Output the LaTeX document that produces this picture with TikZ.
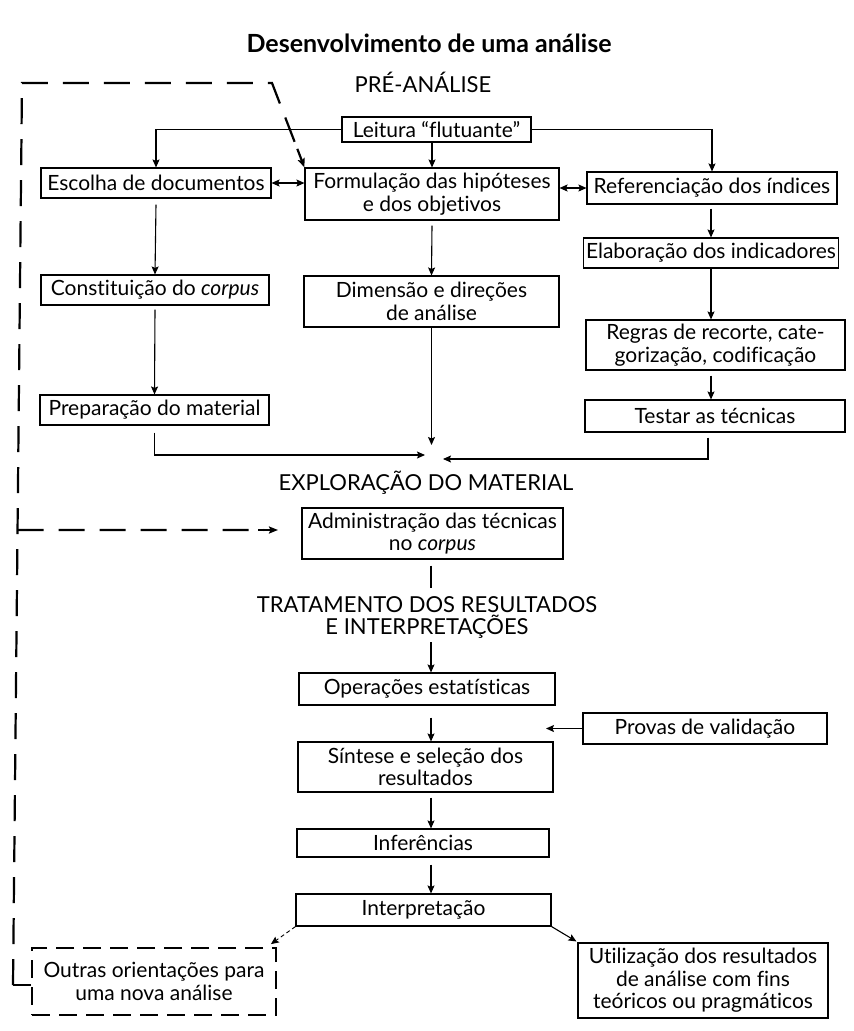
\documentclass[tikz,border=0pt]{standalone}
\usepackage{fontspec}
\setmainfont{Lato}[Ligatures=NoCommon]
\usetikzlibrary{arrows.meta,calc}
\newcommand{\bx}{\fontsize{21}{22.5}\selectfont}
\newcommand{\lb}{\fontsize{22}{22}\selectfont}
\begin{document}
\begin{tikzpicture}[x=1pt,y=-1pt,
  box/.style={draw, line width=1.1pt, inner sep=0pt, align=center, font=\bx},
  lbl/.style={inner sep=0pt, align=center, font=\lb},
  arr/.style={line width=1.1pt, -{Stealth[length=8pt,width=7pt,inset=1.5pt]}},
  arrb/.style={line width=1.1pt, {Stealth[length=8pt,width=7pt,inset=1.5pt]}-{Stealth[length=8pt,width=7pt,inset=1.5pt]}},
  plain/.style={line width=1.1pt},
  bigdash/.style={line width=2.2pt, dash pattern=on 26pt off 15pt},
  boxdash/.style={draw, line width=1.8pt, dash pattern=on 18pt off 9pt, inner sep=0pt, align=center, font=\bx},
  thindash/.style={line width=0.9pt, dash pattern=on 4pt off 3pt, -{Stealth[length=8pt,width=7pt,inset=1.5pt]}}
]
\useasboundingbox (0,0) rectangle (854,1031);

% titles
\node[font=\fontsize{25}{28}\selectfont\bfseries, inner sep=0pt] (title) at (429,43) {Desenvolvimento de uma análise};
\node[lbl] (pre) at (423,82) {PRÉ-ANÁLISE};
\node[lbl] (explo) at (426,483) {EXPLORAÇÃO DO MATERIAL};
\node[lbl] (trat) at (427,617) {TRATAMENTO DOS RESULTADOS\\E INTERPRETAÇÕES};

% boxes
\node[box, minimum width=189pt, minimum height=25pt] (leitura) at (436.5,129.5) {Leitura “flutuante”};
\node[box, minimum width=230pt, minimum height=30pt] (escolha) at (156,183) {Escolha de documentos};
\node[box, minimum width=254pt, minimum height=52pt] (formul) at (432,194) {Formulação das hipóteses\\e dos objetivos};
\node[box, minimum width=250pt, minimum height=32pt] (refer) at (712,188) {Referenciação dos índices};
\node[box, minimum width=255pt, minimum height=30pt] (elab) at (711,253) {Elaboração dos indicadores};
\node[box, minimum width=228pt, minimum height=30pt] (const) at (155,290) {Constituição do \textit{corpus}};
\node[box, minimum width=255pt, minimum height=51pt] (dimen) at (431.5,301.5) {Dimensão e direções\\de análise};
\node[box, minimum width=259pt, minimum height=50pt] (regras) at (715.5,345) {Regras de recorte, cate-\\gorização, codificação};
\node[box, minimum width=229pt, minimum height=30pt] (prep) at (154.5,410) {Preparação do material};
\node[box, minimum width=260pt, minimum height=32pt] (testar) at (715,416) {Testar as técnicas};
\node[box, minimum width=261pt, minimum height=51pt] (admin) at (432.5,533.5) {Administração das técnicas\\no \textit{corpus}};
\node[box, minimum width=256pt, minimum height=32pt] (oper) at (427,689) {Operações estatísticas};
\node[box, minimum width=244pt, minimum height=31pt] (provas) at (705,728.5) {Provas de validação};
\node[box, minimum width=255pt, minimum height=50pt] (sintese) at (425.5,767) {Síntese e seleção dos\\resultados};
\node[box, minimum width=252pt, minimum height=28pt] (infer) at (423,843) {Inferências};
\node[box, minimum width=255pt, minimum height=32pt] (interp) at (423.5,910) {Interpretação};
\node[boxdash, minimum width=244pt, minimum height=67pt] (outras) at (154,981.5) {Outras orientações para\\uma nova análise};
\node[box, minimum width=250pt, minimum height=75pt] (utiliz) at (703,980.5) {Utilização dos resultados\\de análise com fins\\teóricos ou pragmáticos};

% coordinates
\coordinate (j1) at (425,455);
\coordinate (j2) at (431.5,445);
\coordinate (j3) at (443,459);
\coordinate (ax) at (431,0);
\coordinate (rx) at (711,0);
\coordinate (lt) at (22,83);
\coordinate (lb) at (13,985);
\coordinate (tc) at (272,83);
\coordinate (lm) at ($(lt)!0.4956!(lb)$);
\coordinate (admtip) at (278,530);
\coordinate (adend) at (431,588);
\coordinate (pv) at (546,0);

% pre-analysis connectors
\draw[arr] (leitura.west) -| (escolha.north);
\draw[arr] (leitura.south -| formul.north) -- (formul.north);
\draw[arr] (leitura.east) -| (refer.north);
\draw[arrb] (escolha.east) -- (escolha.east -| formul.west);
\draw[arrb] (formul.east |- refer.west) -- (refer.west);
\draw[arr] ($(escolha.south)+(0,6)$) -- (const.north);
\draw[arr] ($(formul.south)+(0,5)$) -- (dimen.north);
\draw[arr] ($(refer.south -| rx)+(0,4)$) -- (elab.north -| rx);
\draw[arr] (elab.south -| rx) -- (regras.north -| rx);
\draw[arr] ($(const.south)+(0,4)$) -- (prep.north);
\draw[arr] ($(regras.south -| rx)+(0,5)$) -- (testar.north -| rx);
\draw[arr] ($(prep.south)+(0,7)$) |- (j1);
\draw[arr] (dimen.south) -- (j2);
\draw[arr] ($(testar.south)+(-7,5)$) |- (j3);

% exploration / treatment
\draw[plain] ($(admin.south -| ax)+(0,6)$) -- (adend);
\draw[arr] ($(trat.south -| ax)+(0,4)$) -- (oper.north -| ax);
\draw[arr] ($(oper.south -| ax)+(0,12)$) -- (sintese.north -| ax);
\draw[arr] (provas.west) -- (provas.west -| pv);
\draw[arr] ($(sintese.south -| ax)+(0,5)$) -- (infer.north -| ax);
\draw[arr] ($(infer.south -| ax)+(0,7)$) -- (interp.north -| ax);
\draw[thindash] (interp.south west) -- ($(outras.north east)+(-6,-3)$);
\draw[arr] (interp.south east) -- ($(utiliz.north west)+(-1,-1)$);

% feedback dashed loop
\draw[plain, line width=2pt] (outras.west |- lb) -- (lb);
\draw[bigdash] (lb) -- (lt) -- (tc) -- ($(tc)!0.78!(formul.north west)$);
\draw[line width=2.2pt, -{Stealth[length=9pt,width=7pt,inset=1.5pt]}] ($(tc)!0.78!(formul.north west)$) -- (formul.north west);
\draw[bigdash] (lm) -- ($(admtip)+(-14,0)$);
\draw[line width=2pt, -{Stealth[length=9pt,width=7pt,inset=1.5pt]}] ($(admtip)+(-20,0)$) -- (admtip);
\end{tikzpicture}
\end{document}
